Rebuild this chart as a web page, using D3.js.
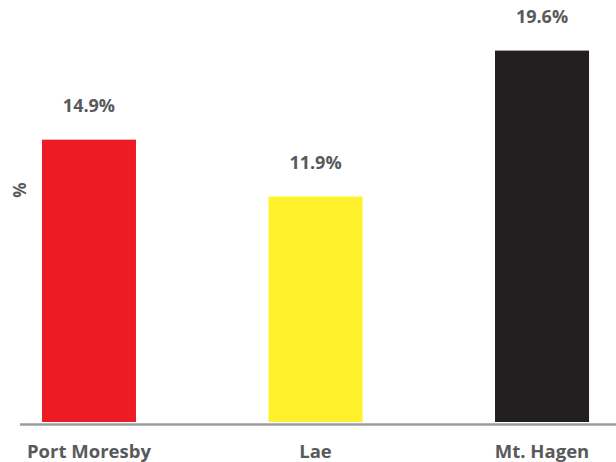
<!DOCTYPE html>
<html>
<head>
<meta charset="utf-8">
<script src="https://cdn.jsdelivr.net/npm/d3@7"></script>
<style>
  body { margin: 0; background: #fff; }
  text { font-family: "Open Sans", sans-serif; font-weight: bold; fill: #58595b; }
</style>
</head>
<body>
<div id="chart"></div>
<script>
var cities = ["Port Moresby", "Lae", "Mt. Hagen"];
var values = [14.9, 11.9, 19.6];
var colors = ["#ed1c24", "#fff22d", "#231f20"];

var width = 616, height = 462;
var baseY = 422;

var svg = d3.select("#chart").append("svg")
    .attr("width", width)
    .attr("height", height);

var x = d3.scaleBand()
    .domain(cities)
    .range([20, 611])
    .paddingInner(0.585)
    .paddingOuter(0.097);

var y = d3.scaleLinear()
    .domain([0, 22.27])
    .range([baseY, 0]);

svg.selectAll(".bar")
    .data(cities)
    .enter().append("rect")
      .attr("class", "bar")
      .attr("x", function(d) { return x(d); })
      .attr("y", function(d, i) { return y(values[i]); })
      .attr("width", x.bandwidth())
      .attr("height", function(d, i) { return baseY - y(values[i]); })
      .attr("fill", function(d, i) { return colors[i]; });

// baseline
svg.append("line")
    .attr("x1", 20)
    .attr("x2", width)
    .attr("y1", baseY + 2.5)
    .attr("y2", baseY + 2.5)
    .attr("stroke", "#9d9d9f")
    .attr("stroke-width", 2.5);

svg.selectAll(".val")
    .data(cities)
    .enter().append("text")
      .attr("class", "val")
      .attr("x", function(d) { return x(d) + x.bandwidth() / 2; })
      .attr("y", function(d, i) { return y(values[i]) - 28; })
      .attr("text-anchor", "middle")
      .style("font-size", "18px")
      .text(function(d, i) { return values[i].toFixed(1) + "%"; });

svg.selectAll(".cat")
    .data(cities)
    .enter().append("text")
      .attr("class", "cat")
      .attr("x", function(d) { return x(d) + x.bandwidth() / 2; })
      .attr("y", 458)
      .attr("text-anchor", "middle")
      .style("font-size", "18.5px")
      .text(function(d) { return d; });

svg.append("text")
    .attr("transform", "translate(26,190) rotate(-90)")
    .attr("text-anchor", "middle")
    .style("font-size", "17px")
    .text("%");
</script>
</body>
</html>
